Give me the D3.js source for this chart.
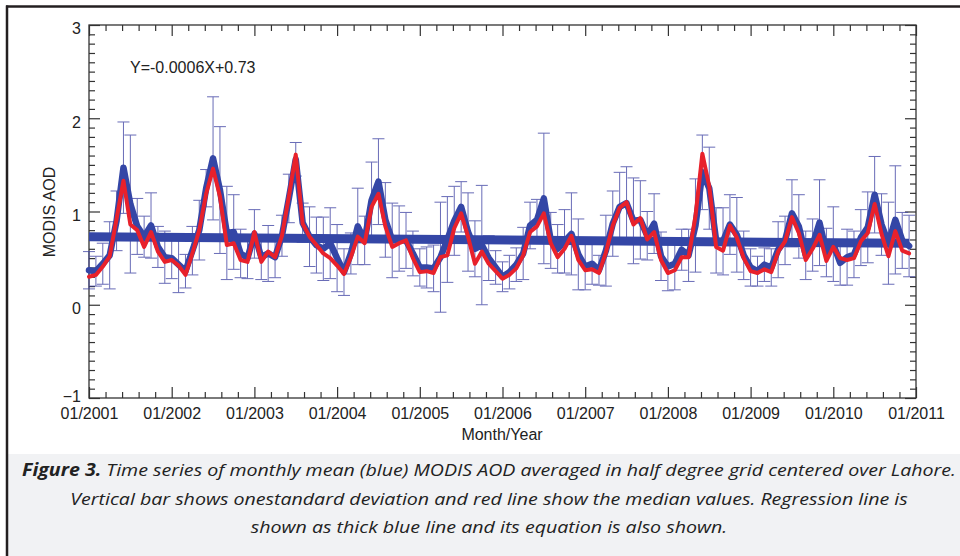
<!DOCTYPE html>
<html>
<head>
<meta charset="utf-8">
<script src="https://cdn.jsdelivr.net/npm/d3@7"></script>
<style>
  body { margin: 0; background: #fff; }
  svg { display: block; }
</style>
</head>
<body>
<svg id="chart" width="960" height="556"></svg>
<script>
// monthly values, 01/2001 .. 12/2010 (index 0 = Jan 2001)
const meanAod = [
  0.37, 0.36, 0.44, 0.53, 0.90, 1.47, 1.08, 0.84, 0.73, 0.85, 0.62, 0.51,
  0.50, 0.43, 0.36, 0.58, 0.80, 1.25, 1.57, 1.23, 0.77, 0.78, 0.55, 0.50,
  0.76, 0.51, 0.55, 0.51, 0.74, 1.14, 1.56, 0.88, 0.73, 0.64, 0.60, 0.66,
  0.50, 0.35, 0.55, 0.84, 0.69, 1.12, 1.32, 0.91, 0.69, 0.71, 0.69, 0.55,
  0.40, 0.40, 0.39, 0.51, 0.70, 0.90, 1.05, 0.78, 0.60, 0.64, 0.50, 0.40,
  0.30, 0.35, 0.43, 0.55, 0.85, 0.91, 1.14, 0.69, 0.60, 0.68, 0.76, 0.54,
  0.41, 0.44, 0.37, 0.58, 0.87, 1.05, 1.09, 0.90, 0.91, 0.74, 0.87, 0.52,
  0.41, 0.44, 0.59, 0.53, 0.85, 1.42, 1.25, 0.69, 0.68, 0.86, 0.75, 0.53,
  0.40, 0.36, 0.43, 0.40, 0.59, 0.69, 0.98, 0.84, 0.53, 0.64, 0.88, 0.56,
  0.65, 0.45, 0.51, 0.54, 0.72, 0.83, 1.18, 0.86, 0.66, 0.91, 0.69, 0.63
];
const medianAod = [
  0.30, 0.32, 0.41, 0.52, 0.92, 1.33, 0.86, 0.80, 0.62, 0.78, 0.57, 0.46,
  0.48, 0.42, 0.32, 0.55, 0.80, 1.19, 1.46, 1.16, 0.64, 0.66, 0.48, 0.46,
  0.78, 0.46, 0.57, 0.51, 0.74, 1.16, 1.61, 0.87, 0.73, 0.64, 0.55, 0.50,
  0.42, 0.33, 0.51, 0.73, 0.66, 1.05, 1.19, 0.84, 0.62, 0.66, 0.69, 0.50,
  0.35, 0.36, 0.34, 0.51, 0.53, 0.82, 0.98, 0.73, 0.44, 0.57, 0.44, 0.36,
  0.28, 0.32, 0.39, 0.53, 0.78, 0.84, 0.98, 0.66, 0.51, 0.60, 0.74, 0.48,
  0.37, 0.38, 0.34, 0.56, 0.85, 1.04, 1.10, 0.86, 0.93, 0.70, 0.78, 0.48,
  0.34, 0.37, 0.51, 0.51, 0.95, 1.62, 1.27, 0.62, 0.58, 0.85, 0.72, 0.50,
  0.36, 0.34, 0.38, 0.35, 0.57, 0.68, 0.94, 0.77, 0.48, 0.60, 0.75, 0.47,
  0.62, 0.50, 0.48, 0.50, 0.68, 0.77, 1.08, 0.76, 0.52, 0.79, 0.58, 0.55
];
const stdAod = [
  0.20, 0.16, 0.22, 0.36, 0.32, 0.49, 0.74, 0.30, 0.22, 0.35, 0.22, 0.28,
  0.22, 0.30, 0.18, 0.26, 0.32, 0.20, 0.66, 0.68, 0.50, 0.40, 0.26, 0.22,
  0.26, 0.24, 0.30, 0.22, 0.22, 0.26, 0.18, 0.21, 0.32, 0.30, 0.34, 0.38,
  0.36, 0.25, 0.22, 0.41, 0.26, 0.41, 0.46, 0.40, 0.40, 0.35, 0.30, 0.24,
  0.20, 0.22, 0.25, 0.59, 0.46, 0.37, 0.27, 0.42, 0.30, 0.64, 0.24, 0.18,
  0.16, 0.18, 0.18, 0.28, 0.25, 0.22, 0.70, 0.30, 0.26, 0.34, 0.44, 0.38,
  0.25, 0.22, 0.16, 0.38, 0.35, 0.37, 0.39, 0.46, 0.42, 0.26, 0.32, 0.26,
  0.26, 0.28, 0.22, 0.28, 0.50, 0.40, 0.44, 0.35, 0.36, 0.32, 0.40, 0.26,
  0.20, 0.16, 0.18, 0.20, 0.30, 0.26, 0.36, 0.34, 0.26, 0.28, 0.46, 0.26,
  0.40, 0.24, 0.30, 0.25, 0.30, 0.38, 0.41, 0.33, 0.44, 0.58, 0.30, 0.33
];
const yearLabels = ["01/2001", "01/2002", "01/2003", "01/2004", "01/2005", "01/2006",
                    "01/2007", "01/2008", "01/2009", "01/2010", "01/2011"];
const yTickValues = [-1, 0, 1, 2, 3];
// regression Y = slope*X + intercept, X = month index
const regSlope = -0.0006;
const regIntercept = 0.73;
const equationText = "Y=-0.0006X+0.73";

const captionLines = [
  ["Figure 3.", " Time series of monthly mean (blue) MODIS AOD averaged in half degree grid centered over Lahore."],
  ["", "Vertical bar shows onestandard deviation and red line show the median values. Regression line is"],
  ["", "shown as thick blue line and its equation is also shown."]
];

const blue = '#3446a6';
const red = '#e8212b';
const axisFont = '"Liberation Sans", Arial, Helvetica, sans-serif';

const svg = d3.select('#chart');

// page frame + caption box
svg.append('rect').attr('x', 8).attr('y', 454).attr('width', 952).attr('height', 102)
    .attr('fill', '#f1f2f4');
svg.append('line').attr('x1', 6).attr('x2', 960).attr('y1', 6.5).attr('y2', 6.5)
    .attr('stroke', '#231f20').attr('stroke-width', 2.5);
svg.append('line').attr('x1', 7).attr('x2', 7).attr('y1', 5.5).attr('y2', 556)
    .attr('stroke', '#231f20').attr('stroke-width', 2.5);

const x = d3.scaleLinear().domain([0, 120]).range([89, 916]);
const y = d3.scaleLinear().domain([-1, 3]).range([398, 25]);

const majorX = d3.range(0, 121, 12);
const minorX = d3.range(0, 51).filter(k => k % 5 !== 0).map(k => k * 2.4);
const minorY = d3.range(-10, 31).filter(k => k % 10 !== 0).map(k => k / 10);

function styleAxis(g) {
  g.select('.domain').remove();
  g.selectAll('.tick line').attr('stroke', '#333').attr('stroke-width', 1.2);
  g.selectAll('.tick text').attr('fill', '#222').style('font-family', axisFont).style('font-size', '16px');
}

// bottom
svg.append('g').attr('transform', 'translate(0,398)')
    .call(d3.axisBottom(x).tickValues(majorX).tickSize(-11).tickPadding(10)
        .tickFormat((d, i) => yearLabels[i]))
    .call(styleAxis);
svg.append('g').attr('transform', 'translate(0,398)')
    .call(d3.axisBottom(x).tickValues(minorX).tickSize(-6).tickFormat(''))
    .call(styleAxis);
// top
svg.append('g').attr('transform', 'translate(0,25)')
    .call(d3.axisTop(x).tickValues(majorX).tickSize(-11).tickFormat(''))
    .call(styleAxis);
svg.append('g').attr('transform', 'translate(0,25)')
    .call(d3.axisTop(x).tickValues(minorX).tickSize(-6).tickFormat(''))
    .call(styleAxis);
// left
const leftAxis = svg.append('g').attr('transform', 'translate(89,0)')
    .call(d3.axisLeft(y).tickValues(yTickValues).tickSize(-11).tickPadding(8).tickFormat(d3.format('d')))
    .call(styleAxis);
leftAxis.selectAll('.tick text').attr('dy', d => d === -1 ? '0.2em' : '0.55em');
svg.append('g').attr('transform', 'translate(89,0)')
    .call(d3.axisLeft(y).tickValues(minorY).tickSize(-6).tickFormat(''))
    .call(styleAxis);
// right
svg.append('g').attr('transform', 'translate(916,0)')
    .call(d3.axisRight(y).tickValues(yTickValues).tickSize(-11).tickFormat(''))
    .call(styleAxis);
svg.append('g').attr('transform', 'translate(916,0)')
    .call(d3.axisRight(y).tickValues(minorY).tickSize(-6).tickFormat(''))
    .call(styleAxis);

// plot box
svg.append('rect').attr('x', 89).attr('y', 25).attr('width', 827).attr('height', 373)
    .attr('fill', 'none').attr('stroke', '#333').attr('stroke-width', 1.3);

// error bars (mean +/- std)
const bars = svg.append('g').attr('stroke', '#4448a6').attr('stroke-width', 1).attr('opacity', 0.8);
meanAod.forEach(function (m, i) {
  const hi = y(m + stdAod[i]), lo = y(m - stdAod[i]), cx = x(i);
  bars.append('line').attr('x1', cx).attr('x2', cx).attr('y1', hi).attr('y2', lo);
  bars.append('line').attr('x1', cx - 6).attr('x2', cx + 6).attr('y1', hi).attr('y2', hi);
  bars.append('line').attr('x1', cx - 6).attr('x2', cx + 6).attr('y1', lo).attr('y2', lo);
});

// regression line
const regLine = d3.line().x(d => x(d)).y(d => y(regSlope * d + regIntercept));
svg.append('path').attr('d', regLine([0, meanAod.length - 1]))
    .attr('fill', 'none').attr('stroke', blue).attr('stroke-width', 9);

// mean and median
const line = d3.line().x((d, i) => x(i)).y(d => y(d));
svg.append('path').attr('d', line(meanAod))
    .attr('fill', 'none').attr('stroke', blue).attr('stroke-width', 6.5)
    .attr('stroke-linejoin', 'round').attr('stroke-linecap', 'round');
svg.append('path').attr('d', line(medianAod))
    .attr('fill', 'none').attr('stroke', red).attr('stroke-width', 4)
    .attr('stroke-linejoin', 'round').attr('stroke-linecap', 'round');

// texts
svg.append('text').attr('x', 130).attr('y', 73).text(equationText)
    .style('font-family', axisFont).style('font-size', '16px').attr('fill', '#222');
svg.append('text').attr('transform', 'translate(55,212) rotate(-90)')
    .attr('text-anchor', 'middle').text('MODIS AOD')
    .style('font-family', axisFont).style('font-size', '16px').attr('fill', '#222');
svg.append('text').attr('x', 502).attr('y', 440).attr('text-anchor', 'middle').text('Month/Year')
    .style('font-family', axisFont).style('font-size', '16px').attr('fill', '#222');

// caption
const capBase = [476, 505, 533];
const capTexts = captionLines.map(function (parts, k) {
  const t = svg.append('text').attr('x', 489).attr('y', capBase[k]).attr('text-anchor', 'middle')
      .style('font-family', '"Open Sans", "Noto Sans", sans-serif').style('font-style', 'italic')
      .style('font-size', '17px').attr('fill', '#222');
  if (parts[0]) t.append('tspan').style('font-weight', 'bold').text(parts[0]);
  t.append('tspan').text(parts[1]);
  return t;
});
const w0 = capTexts[0].node().getComputedTextLength();
const ratio = 934 / w0;
capTexts.forEach(function (t) {
  const w = t.node().getComputedTextLength();
  t.attr('textLength', w * ratio).attr('lengthAdjust', 'spacingAndGlyphs');
});
</script>
</body>
</html>
